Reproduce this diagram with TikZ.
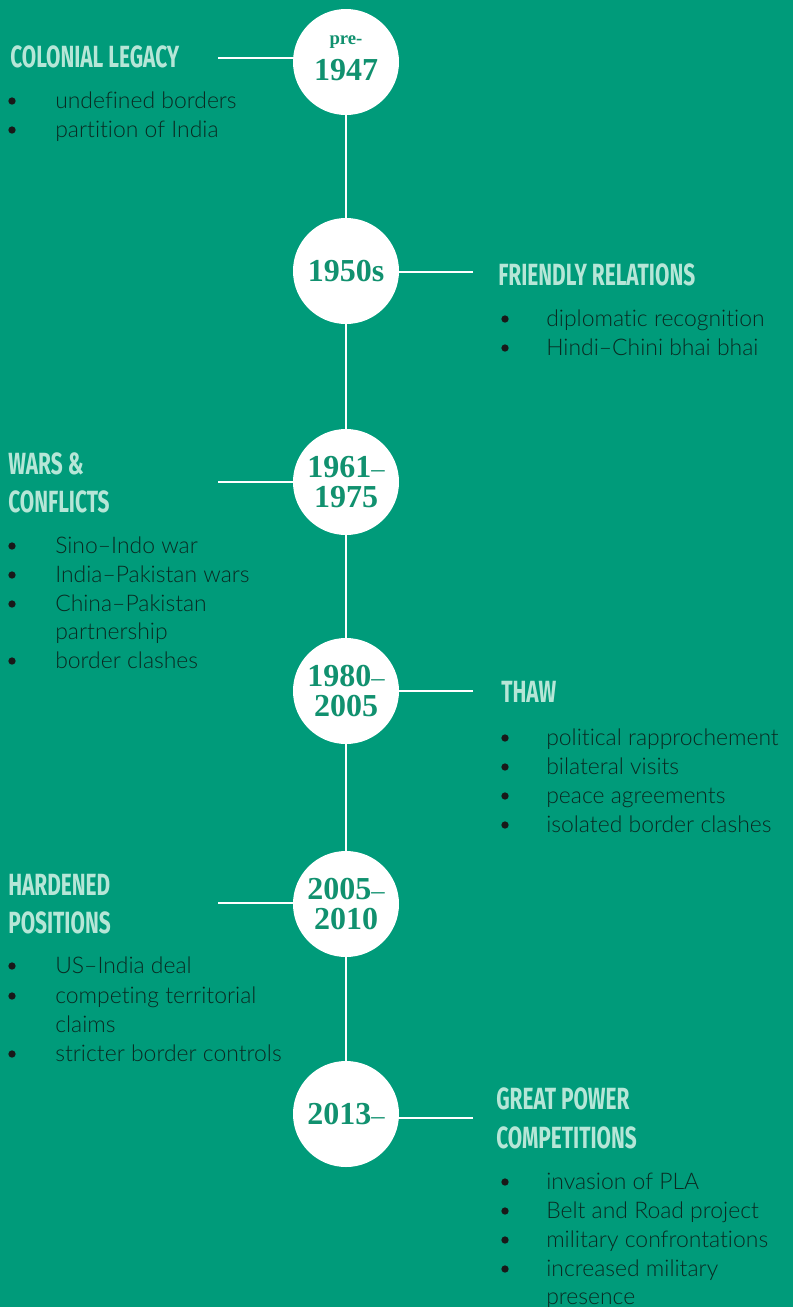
\documentclass[tikz,border=0pt]{standalone}
\usepackage{fontspec}
\setmainfont{Liberation Serif}
\newfontfamily\headfont[FakeStretch=0.68]{Fira Sans}
\newfontfamily\bodyfont[Ligatures={NoCommon,NoContextual}]{Lato Light}
\definecolor{bg}{HTML}{009B7A}
\definecolor{headc}{HTML}{B6E6D7}
\definecolor{yearc}{HTML}{11916F}
\definecolor{bodyc}{HTML}{0A2A22}
\tikzset{
  yearcirc/.style={circle,fill=white,minimum size=79.5pt,inner sep=0pt,text=yearc,align=center,font=\bfseries\fontsize{24}{22}\selectfont},
  tline/.style={white,line width=1.6pt},
  heading/.style={anchor=base west,inner sep=0pt,text=headc,font=\headfont\bfseries\fontsize{23}{28}\selectfont},
  itemtext/.style={anchor=base west,inner sep=0pt,text=bodyc,font=\bodyfont\fontsize{17.2}{20}\selectfont},
  dot/.style={circle,fill=black!90,inner sep=0pt,minimum size=5.5pt}
}
\newcommand\smdash{{\mdseries\fontsize{20}{20}\selectfont –}}
\begin{document}
\begin{tikzpicture}[x=0.75pt,y=-0.75pt]
\fill[bg] (0,0) rectangle (793,1307);
\useasboundingbox (0,0) rectangle (793,1307);
% circles
\node[yearcirc] (c1) at (346,62) {\raisebox{2pt}{\fontsize{14}{14}\selectfont pre-}\\[3pt]1947\rule[-6pt]{0pt}{1pt}};
\node[yearcirc] (c2) at (346,271) {1950s};
\node[yearcirc] (c3) at (346,482) {1961\smdash\\[1pt]1975};
\node[yearcirc] (c4) at (346,691) {1980\smdash\\[1pt]2005};
\node[yearcirc] (c5) at (346,904) {2005\smdash\\[1pt]2010};
\node[yearcirc] (c6) at (346,1114) {2013\smdash};
% vertical line
\draw[tline] (c1) -- (c2);
\draw[tline] (c2) -- (c3);
\draw[tline] (c3) -- (c4);
\draw[tline] (c4) -- (c5);
\draw[tline] (c5) -- (c6);
% horizontal connectors
\coordinate (h1) at (218,58);
\coordinate (h2) at (473,272);
\coordinate (h3) at (218,482);
\coordinate (h4) at (473,691);
\coordinate (h5) at (218,903);
\coordinate (h6) at (473,1118);
\draw[tline] (h1) -- (h1 -| c1.west);
\draw[tline] (h2) -- (h2 -| c2.east);
\draw[tline] (h3) -- (h3 -| c3.west);
\draw[tline] (h4) -- (h4 -| c4.east);
\draw[tline] (h5) -- (h5 -| c5.west);
\draw[tline] (h6) -- (h6 -| c6.east);
% headings
\node[heading] (t1) at (10,67) {COLONIAL LEGACY};
\node[heading] (t2) at (498,285) {FRIENDLY RELATIONS};
\node[heading] (t3a) at (8,474) {WARS \&};
\node[heading] (t3b) at (8,512) {CONFLICTS};
\node[heading] (t4) at (501,702) {THAW};
\node[heading] (t5a) at (8,895) {HARDENED};
\node[heading] (t5b) at (8,933) {POSITIONS};
\node[heading] (t6a) at (496,1109) {GREAT POWER};
\node[heading] (t6b) at (496,1148) {COMPETITIONS};
% left items
\foreach \n/\y/\t in {a1/108/undefined borders, a2/137/partition of India,
  c1i/553/Sino–Indo war, c2i/582/India–Pakistan wars, c3i/611/China–Pakistan, c3j/639/partnership, c4i/668/border clashes,
  e1/973/US–India deal, e2/1003/competing territorial, e2j/1032/claims, e3/1061/stricter border controls}
  {\node[itemtext] (\n) at (55,\y) {\t};}
\foreach \n/\y in {a1/101, a2/130, c1i/546, c2i/575, c3i/604, c4i/661, e1/966, e2/996, e3/1054}
  {\node[dot] (d\n) at (12,\y) {};}
% right items
\foreach \n/\y/\t in {b1/326/diplomatic recognition, b2/355/Hindi–Chini bhai bhai,
  d1/745/political rapprochement, d2/774/bilateral visits, d3/803/peace agreements, d4/832/isolated border clashes,
  f1/1189/invasion of PLA, f2/1218/Belt and Road project, f3/1247/military confrontations, f4/1276/increased military, f4j/1304/presence}
  {\node[itemtext] (\n) at (546,\y) {\t};}
\foreach \n/\y in {b1/319, b2/348, d1/738, d2/767, d3/796, d4/825, f1/1182, f2/1211, f3/1240, f4/1269}
  {\node[dot] (d\n) at (505,\y) {};}
\end{tikzpicture}
\end{document}
